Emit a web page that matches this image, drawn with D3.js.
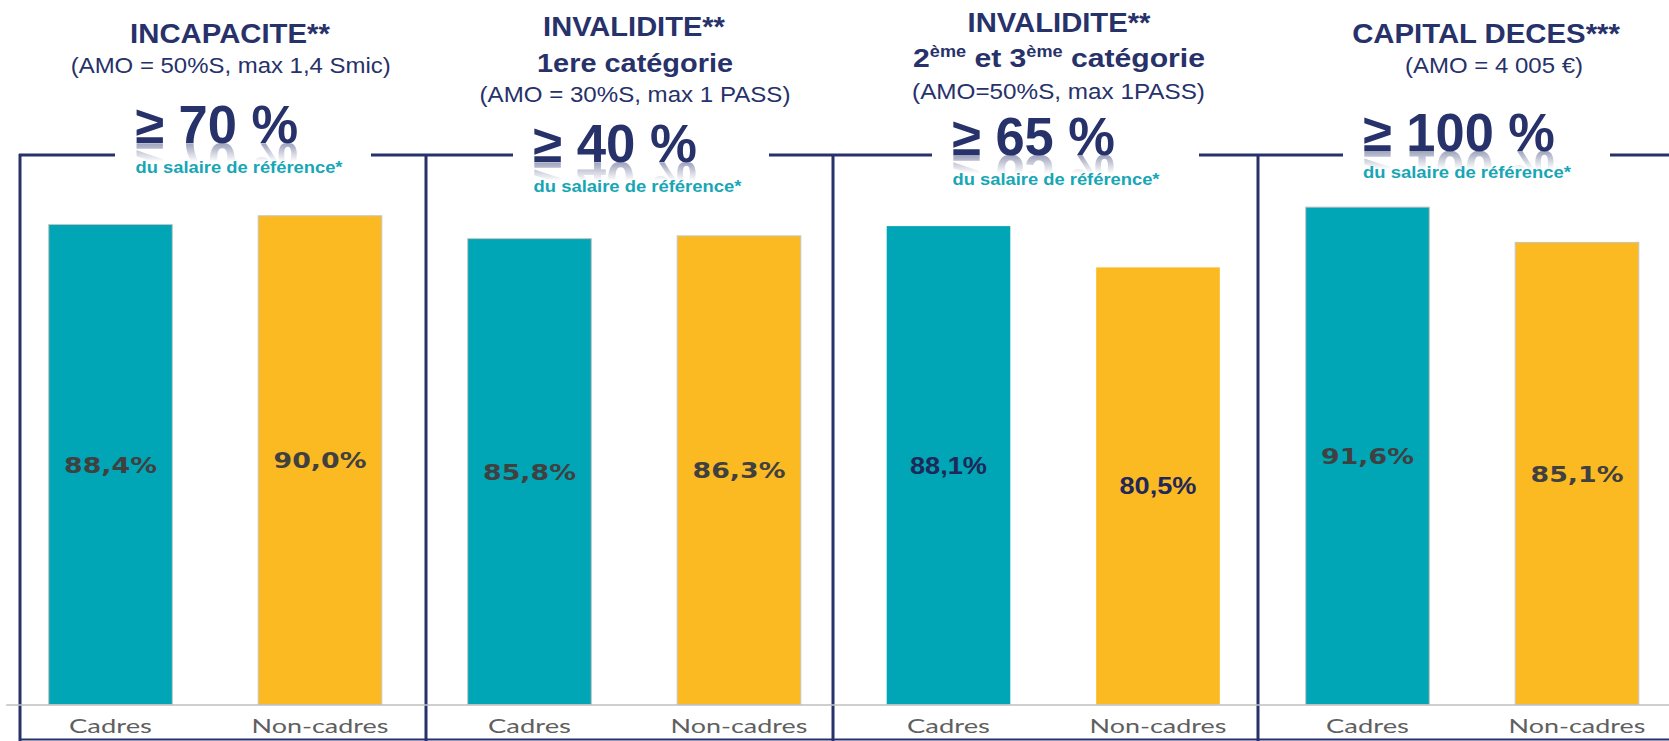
<!DOCTYPE html>
<html><head><meta charset="utf-8">
<script src="https://cdn.jsdelivr.net/npm/d3@7"></script>
<style>html,body{margin:0;padding:0;background:#fff;overflow:hidden;} svg{display:block;}</style>
</head><body>
<svg id="chart" width="1669" height="741"></svg>
<script>
// ---------- DATA ----------
const panelTitles = ["INCAPACITE**", "INVALIDITE**", "INVALIDITE**", "CAPITAL DECES***"];
const panelCategoryLines = ["", "1ere catégorie", "2^ème et 3^ème catégorie", ""];
const panelSubtitles = ["(AMO = 50%S, max 1,4 Smic)", "(AMO = 30%S, max 1 PASS)", "(AMO=50%S, max 1PASS)", "(AMO = 4 005 €)"];
const thresholds = ["≥ 70 %", "≥ 40 %", "≥ 65 %", "≥ 100 %"];
const thresholdNote = "du salaire de référence*";
const categories = ["Cadres", "Non-cadres"];
const cadresValues = [88.4, 85.8, 88.1, 91.6];
const nonCadresValues = [90.0, 86.3, 80.5, 85.1];
const valueLabels = (v) => d3.format(".1f")(v).replace(".", ",") + "%";

// ---------- LAYOUT ----------
const W = 1669, H = 741;
const NAVY = "#27316a", TEAL_TXT = "#17a6b6";
const FONT = "'Liberation Sans', Arial, sans-serif";
const svg = d3.select("#chart");
const defs = svg.append("defs");
const grad = defs.append("linearGradient").attr("id", "reflW")
  .attr("x1", 0).attr("y1", 0).attr("x2", 0).attr("y2", 1);
[[0, 0], [0.5, 0], [0.81, 0.45], [1, 0.45]].forEach(([o, a]) =>
  grad.append("stop").attr("offset", o).attr("stop-color", "#fff").attr("stop-opacity", a));

const rows = [];
thresholds.forEach((t, p) => {
  rows.push({ key: p + "|" + categories[0], panel: p, cat: categories[0], value: cadresValues[p] });
  rows.push({ key: p + "|" + categories[1], panel: p, cat: categories[1], value: nonCadresValues[p] });
});

const x = d3.scaleBand().domain(rows.map(d => d.key))
  .range([5.75, 1681.75]).paddingInner(0.41).paddingOuter(0.205);
const y = d3.scaleLinear().domain([0, 100]).range([704.5, 161.5]);
const color = d3.scaleOrdinal().domain(categories).range(["#00a5b6", "#fbb922"]);

// frame
const frame = svg.append("g").attr("stroke", NAVY).attr("stroke-width", 3).attr("fill", "none");
[[19, 115], [371, 513], [769, 932], [1199, 1343], [1610, 1669]].forEach(([a, b]) =>
  frame.append("line").attr("x1", a).attr("x2", b).attr("y1", 155).attr("y2", 155));
[20, 426, 833, 1258].forEach(xx =>
  frame.append("line").attr("x1", xx).attr("x2", xx).attr("y1", 154).attr("y2", 741));
frame.append("line").attr("x1", 19).attr("x2", 1669).attr("y1", 739.5).attr("y2", 739.5).attr("stroke-width", 2);

// bars
svg.append("g").selectAll("rect").data(rows).join("rect")
  .attr("x", d => x(d.key)).attr("width", x.bandwidth())
  .attr("y", d => y(d.value)).attr("height", d => y(0) - y(d.value))
  .attr("fill", d => color(d.cat))
  .attr("stroke", d => d.panel === 2 ? "none" : "#c4c4c4").attr("stroke-width", 1);

// axis
const axis = svg.append("g").attr("transform", "translate(0,704.5)")
  .call(d3.axisBottom(x).tickSize(0).tickFormat(k => k.split("|")[1]));
axis.select(".domain").attr("stroke", "#bfbfbf").attr("stroke-width", 1.6);
const tickWidths = { "Cadres": 83, "Non-cadres": 137 };
axis.selectAll(".tick text")
  .attr("font-family", "Lato, 'Open Sans', sans-serif").attr("font-size", 19.5)
  .attr("fill", "#5f5f5f").attr("y", 0).attr("dy", 0)
  .each(function () {
    const w = this.getBBox().width;
    const sx = tickWidths[this.textContent] / w;
    d3.select(this).attr("transform", `translate(0,28.2) scale(${sx},1)`);
  });

// value labels
svg.append("g").selectAll("text").data(rows).join("text")
  .attr("text-anchor", "middle")
  .attr("font-family", d => d.panel === 2 ? FONT : "'DejaVu Sans', Verdana, sans-serif")
  .attr("font-weight", "bold")
  .attr("font-size", d => d.panel === 2 ? 24 : 20.5)
  .attr("fill", d => d.panel === 2 ? "#1f2858" : "#404040")
  .text(d => valueLabels(d.value))
  .each(function (d) {
    const w = this.getBBox().width;
    const target = d.panel === 2 ? 77 : 93;
    const cx = x(d.key) + x.bandwidth() / 2;
    const cy = (y(d.value) + y(0)) / 2 + 8.2;
    d3.select(this).attr("transform", `translate(${cx},${cy}) scale(${target / w},1)`);
  });

// titles
const layout = [
  { title: [230, 42.7, 200], sub: [230.7, 72.5, 320], big: [216.7, 143.3, 163], note: [239, 173, 208] },
  { title: [634, 36, 182], cat: [635, 71.5, 196], sub: [635, 101.5, 311], big: [615, 162.3, 164], note: [637.5, 191.7, 209] },
  { title: [1059, 31.7, 183], cat: [1059, 66.7, 292], sub: [1058.5, 99.3, 293], big: [1033.5, 155, 163], note: [1056, 185, 208] },
  { title: [1486, 42.7, 268], sub: [1494, 72.7, 178], big: [1459, 150.7, 192], note: [1467, 178.3, 209] }
];

function fitText(parent, [cx, cy, w], str, size, weight, fill, reflectId) {
  const g = parent.append("g");
  const t = g.append("text").attr("text-anchor", "middle")
    .attr("font-family", FONT)
    .attr("font-size", size).attr("font-weight", weight).attr("fill", fill);
  let raised = false;
  str.split(/(\^\S+?(?=\s|$))/).filter(s => s.length).forEach(s => {
    if (s.startsWith("^")) {
      t.append("tspan").attr("font-size", size * 0.6).attr("dy", -10).text(s.slice(1));
      raised = true;
    } else {
      const ts = t.append("tspan").text(s);
      if (raised) { ts.attr("dy", 10); raised = false; }
    }
  });
  const bw = t.node().getBBox().width;
  const tr = `translate(${cx},${cy}) scale(${w / bw},1)`;
  g.attr("transform", tr);
  if (reflectId) {
    // mirrored, fading reflection drawn as a masked shape
    const m = defs.append("mask").attr("id", reflectId)
      .attr("maskUnits", "userSpaceOnUse").attr("x", 0).attr("y", 0).attr("width", W).attr("height", H);
    m.append("g").attr("transform", tr).append("text")
      .attr("text-anchor", "middle").attr("font-family", FONT)
      .attr("font-size", size).attr("font-weight", weight)
      .attr("fill", "url(#reflW)").attr("transform", "scale(1,-1)").text(str);
    parent.insert("rect", () => g.node())
      .attr("x", cx - w / 2 - 10).attr("width", w + 20)
      .attr("y", cy).attr("height", 30)
      .attr("fill", NAVY).attr("mask", `url(#${reflectId})`);
  }
}

const titles = svg.append("g");
layout.forEach((L, p) => {
  fitText(titles, L.title, panelTitles[p], 28, "bold", NAVY);
  if (L.cat) fitText(titles, L.cat, panelCategoryLines[p], 26.5, "bold", NAVY);
  fitText(titles, L.sub, panelSubtitles[p], 21.5, "normal", NAVY);
  fitText(titles, L.big, thresholds[p], 53, "bold", NAVY, "refl" + p);
  fitText(titles, L.note, thresholdNote, 16, "bold", TEAL_TXT);
});
</script>
</body></html>
